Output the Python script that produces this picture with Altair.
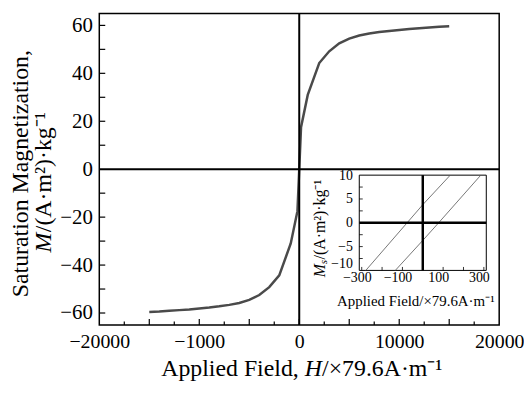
import altair as alt
import pandas as pd

# ---------------- data ----------------
H = [-15000, -14000, -13000, -12000, -11000, -10000, -9000, -8000, -7000, -6000,
     -5000, -4000, -3000, -2000, -850, -180, 0, 180, 850, 2000, 3000, 4000, 5000,
     6000, 7000, 8000, 9000, 10000, 11000, 12000, 13000, 14000, 15000]
M = [-59.6, -59.4, -59.1, -58.8, -58.5, -58.1, -57.7, -57.2, -56.6, -55.8,
     -54.5, -52.5, -49.2, -44.3, -31.0, -17.5, 0.0, 17.5, 31.0, 44.3, 49.2, 52.5, 54.5,
     55.8, 56.6, 57.2, 57.7, 58.1, 58.5, 58.8, 59.1, 59.4, 59.6]

UP_H = [-280, -77, 0, 135]
UP_M = [-10, 0, 3.8, 10]
LO_H = [-135, 0, 78, 285]
LO_M = [-10, -3.7, 0, 10]

X_LABELS = [-20000, -10000, 0, 10000, 20000]
Y_LABELS = [-60, -40, -20, 0, 20, 40, 60]
X_MAJOR = [-15000, -10000, -5000, 0, 5000, 10000, 15000]
X_MINOR = [-17500, -12500, -7500, -2500, 2500, 7500, 12500, 17500]
Y_TICKS = [-60, -50, -40, -30, -20, -10, 10, 20, 30, 40, 50, 60]

IN_X_LABELS = [-300, -100, 100, 300]
IN_Y_LABELS = [-10, -5, 0, 5, 10]
IN_X_TICKS = [-300, -200, -100, 100, 200, 300]
IN_Y_TICKS = [-7.5, -5, -2.5, 2.5, 5, 7.5]

# ---------------- layout ----------------
W, HT = 403, 314
FONT = "Liberation Serif"

minus_expr = "datum.value < 0 ? '\u2212' + format(-datum.value, 'd') : format(datum.value, 'd')"
x_label_expr = "datum.value == -10000 ? '\u22121000' : (" + minus_expr + ")"

xs = alt.Scale(domain=[-20000, 20000], nice=False, zero=False)
ys = alt.Scale(domain=[-65, 65], nice=False, zero=False)
x_axis = alt.Axis(values=X_LABELS, labelExpr=x_label_expr, ticks=False, tickSize=0,
                  domain=False, grid=False, labelFont=FONT, labelFontSize=20,
                  labelColor="black", labelPadding=7, labelFlush=False,
                  labelOverlap=False, title=None, orient="bottom")
y_axis = alt.Axis(values=Y_LABELS, labelExpr=minus_expr, ticks=False, tickSize=0,
                  domain=False, grid=False, labelFont=FONT, labelFontSize=21,
                  labelColor="black", labelPadding=7, labelFlush=False,
                  labelOverlap=False, title=None, orient="left")


def MX(f):
    return alt.X(f, type="quantitative", scale=xs, axis=x_axis)


def MY(f):
    return alt.Y(f, type="quantitative", scale=ys, axis=y_axis)


ixs = alt.Scale(domain=[-312, 312], range=[262, 390], nice=False, zero=False)
iys = alt.Scale(domain=[-10, 10], range=[259, 163], nice=False, zero=False)
ix_axis = alt.Axis(orient="bottom", offset=-55, values=IN_X_LABELS, labelExpr=minus_expr,
                   ticks=False, tickSize=0, domain=False, grid=False, labelFont=FONT,
                   labelFontSize=14, labelColor="black", labelPadding=0, labelOffset=-5,
                   labelFlush=False, labelOverlap=False, title=None)
iy_axis = alt.Axis(orient="left", offset=-262, values=IN_Y_LABELS, labelExpr=minus_expr,
                   ticks=False, tickSize=0, domain=False, grid=False, labelFont=FONT,
                   labelFontSize=14, labelColor="black", labelPadding=7,
                   labelBaseline={"condition": {"test": "datum.value == -10", "value": "bottom"},
                                  "value": "middle"},
                   labelFlush=False, labelOverlap=False, title=None)


def IX(f):
    return alt.X(f, type="quantitative", scale=ixs, axis=ix_axis)


def IY(f):
    return alt.Y(f, type="quantitative", scale=iys, axis=iy_axis)


def txt(s, x, y, size, angle=0, align="left", baseline="alphabetic", style="normal"):
    return alt.Chart(pd.DataFrame({"t": [s]})).mark_text(
        font=FONT, fontSize=size, angle=angle, align=align, baseline=baseline,
        fontStyle=style, color="black"
    ).encode(text="t:N", x=alt.value(x), y=alt.value(y))


# ---------------- main plot ----------------
curve = alt.Chart(pd.DataFrame({"H": H, "M": M})).mark_line(
    color="#4a4a4a", strokeWidth=2.5).encode(x=MX("H"), y=MY("M"))
zero_v = alt.Chart(pd.DataFrame({"H": [0]})).mark_rule(
    color="black", strokeWidth=2).encode(x=MX("H"))
zero_h = alt.Chart(pd.DataFrame({"M": [0]})).mark_rule(
    color="black", strokeWidth=2).encode(y=MY("M"))
xmaj = alt.Chart(pd.DataFrame({"H": X_MAJOR})).mark_rule(
    color="black", strokeWidth=1.2).encode(x=MX("H"), y=alt.value(HT), y2=alt.value(HT - 6))
xmin = alt.Chart(pd.DataFrame({"H": X_MINOR})).mark_rule(
    color="black", strokeWidth=1.2).encode(x=MX("H"), y=alt.value(HT), y2=alt.value(HT - 3.5))
yt = alt.Chart(pd.DataFrame({"M": Y_TICKS})).mark_rule(
    color="black", strokeWidth=1.2).encode(y=MY("M"), x=alt.value(0), x2=alt.value(6))

TB = 365  # x-title baseline
titles = [
    txt("Applied Field,", 201, TB, 24, align="right"),
    txt("H", 207, TB, 24, style="italic"),
    txt("/\u00d779.6A\u00b7m\u207b\u00b9", 224.5, TB, 24),
    txt("Saturation Magnetization,", -79, 161.5, 24, angle=270, align="center", baseline="middle"),
    txt("M", -56, 241, 24, angle=270, baseline="middle", style="italic"),
    txt("/(A\u00b7m\u00b2)\u00b7kg\u207b\u00b9", -56, 220.5, 24, angle=270, baseline="middle"),
    txt("M", 222, 266, 16, angle=270, baseline="middle", style="italic"),
    txt("s", 226, 252.7, 11, angle=270, baseline="middle", style="italic"),
    txt("/(A\u00b7m\u00b2)\u00b7kg\u207b\u00b9", 222, 248, 16, angle=270, baseline="middle"),
    txt("Applied Field/\u00d779.6A\u00b7m\u207b\u00b9", 319, 294.7, 15, align="center"),
]

main = alt.layer(curve, zero_v, zero_h, xmaj, xmin, yt, *titles)

# ---------------- inset ----------------
frame = alt.Chart(pd.DataFrame({"h": [-312], "h2": [312], "m": [-10], "m2": [10]})).mark_rect(
    fill="white", stroke="black", strokeWidth=1).encode(x=IX("h"), x2="h2", y=IY("m"), y2="m2")
loop_df = pd.DataFrame({
    "h": UP_H + LO_H,
    "m": UP_M + LO_M,
    "b": ["up"] * len(UP_H) + ["lo"] * len(LO_H),
})
loop = alt.Chart(loop_df).mark_line(color="#555555", strokeWidth=0.8).encode(
    x=IX("h"), y=IY("m"), detail="b:N")
iz_v = alt.Chart(pd.DataFrame({"h": [0], "m": [-10], "m2": [10]})).mark_rule(
    color="black", strokeWidth=2.5).encode(x=IX("h"), y=IY("m"), y2="m2")
iz_h = alt.Chart(pd.DataFrame({"m": [0], "h": [-312], "h2": [312]})).mark_rule(
    color="black", strokeWidth=2.5).encode(y=IY("m"), x=IX("h"), x2="h2")
ixt = alt.Chart(pd.DataFrame({"h": IN_X_TICKS})).mark_rule(
    color="black", strokeWidth=0.8).encode(x=IX("h"), y=alt.value(259), y2=alt.value(255.5))
iyt = alt.Chart(pd.DataFrame({"m": IN_Y_TICKS})).mark_rule(
    color="black", strokeWidth=0.8).encode(y=IY("m"), x=alt.value(262), x2=alt.value(265.5))

inset = alt.layer(frame, loop, iz_v, iz_h, ixt, iyt)

chart = alt.layer(main, inset).resolve_scale(
    x="independent", y="independent"
).properties(
    width=W, height=HT,
    autosize=alt.AutoSizeParams(type="none"),
    padding={"left": 92, "top": 4, "right": 25, "bottom": 56},
    background="white",
).configure_view(
    stroke="black", strokeWidth=1.5
).configure_axis(
    labelFont=FONT, titleFont=FONT, labelColor="black"
).configure_text(font=FONT)

chart.save("out.html", embed_options={"renderer": "svg", "actions": False})
